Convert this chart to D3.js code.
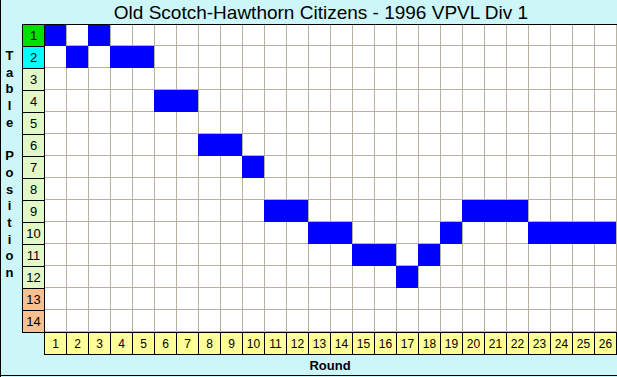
<!DOCTYPE html>
<html><head><meta charset="utf-8">
<script src="https://cdn.jsdelivr.net/npm/d3@7"></script>
<style>html,body{margin:0;padding:0;background:#fff;overflow:hidden}</style>
</head><body>
<script>
const title = "Old Scotch-Hawthorn Citizens - 1996 VPVL Div 1";
const rounds = d3.range(1, 27);
const positionsAxis = d3.range(1, 15);
const positions = [1,2,1,2,2,4,4,6,6,7,9,9,10,10,11,11,12,11,10,9,9,9,10,10,10,10];
const yTitle = "Table Position";
const xTitle = "Round";

const W = 617, H = 377;
const svg = d3.select("body").append("svg").attr("width", W).attr("height", H)
  .style("font-family", "'Liberation Sans', Arial, sans-serif");

svg.append("rect").attr("x",0).attr("y",0).attr("width",W).attr("height",H).attr("fill","#cdf6f8");

const x = d3.scaleBand().domain(rounds).range([44, 616]).padding(0);
const y = d3.scaleBand().domain(positionsAxis).range([24, 332]).padding(0);

// plot area
svg.append("rect").attr("x",44).attr("y",24).attr("width",616-44).attr("height",332-24).attr("fill","#fff");

// grid
const g = svg.append("g").attr("stroke","#b8b0a0").attr("stroke-width",1);
rounds.forEach(r => {
  g.append("line").attr("x1", x(r)+x.bandwidth()+0.5).attr("x2", x(r)+x.bandwidth()+0.5)
    .attr("y1",24).attr("y2",332);
});
positionsAxis.forEach(p => {
  g.append("line").attr("x1",44).attr("x2",617)
    .attr("y1", y(p)+y.bandwidth()-0.5).attr("y2", y(p)+y.bandwidth()-0.5);
});

// blue cells
svg.append("g").selectAll("rect").data(positions).join("rect")
  .attr("x",(d,i)=>x(rounds[i])).attr("y",d=>y(d))
  .attr("width",x.bandwidth()).attr("height",y.bandwidth())
  .attr("fill","#0000ff");

// row labels
const rowColor = p => p===1 ? "#00e000" : p===2 ? "#00ffff" : p>=13 ? "#f6c090" : "#e2f8c6";
const rl = svg.append("g");
positionsAxis.forEach(p => {
  rl.append("rect").attr("x",22.5).attr("y",y(p)+0.5).attr("width",22).attr("height",y.bandwidth())
    .attr("fill",rowColor(p)).attr("stroke","#000").attr("stroke-width",1);
  rl.append("text").attr("x",33.5).attr("y",y(p)+y.bandwidth()/2+5)
    .attr("text-anchor","middle").attr("font-size",13).attr("fill","#000").text(p);
});

// column labels
const cl = svg.append("g");
rounds.forEach(r => {
  cl.append("rect").attr("x",x(r)+0.5).attr("y",332.5).attr("width",x.bandwidth()).attr("height",22)
    .attr("fill","#ffff99").attr("stroke","#000").attr("stroke-width",1);
  cl.append("text").attr("x",x(r)+x.bandwidth()/2+0.5).attr("y",348)
    .attr("text-anchor","middle").attr("font-size",12).attr("fill","#000").text(r);
});

// top line
svg.append("line").attr("x1",22).attr("x2",617).attr("y1",24.5).attr("y2",24.5).attr("stroke","#000");

// title
svg.append("text").attr("x",321).attr("y",19).attr("text-anchor","middle")
  .attr("font-size",19).attr("fill","#000").text(title);

// y title stacked
yTitle.split("").forEach((c,i) => {
  if (c === " ") return;
  svg.append("text").attr("x",9.5).attr("y",60 + i*16.7).attr("text-anchor","middle")
    .attr("font-size",13).attr("font-weight","bold").attr("fill","#000").text(c);
});

// x title
svg.append("text").attr("x",330).attr("y",370).attr("text-anchor","middle")
  .attr("font-size",13).attr("font-weight","bold").attr("fill","#000").text(xTitle);

// outer border (left & bottom)
svg.append("line").attr("x1",0.5).attr("x2",0.5).attr("y1",0).attr("y2",H).attr("stroke","#000");
svg.append("line").attr("x1",0).attr("x2",W).attr("y1",375.5).attr("y2",375.5).attr("stroke","#000");
</script>
</body></html>
